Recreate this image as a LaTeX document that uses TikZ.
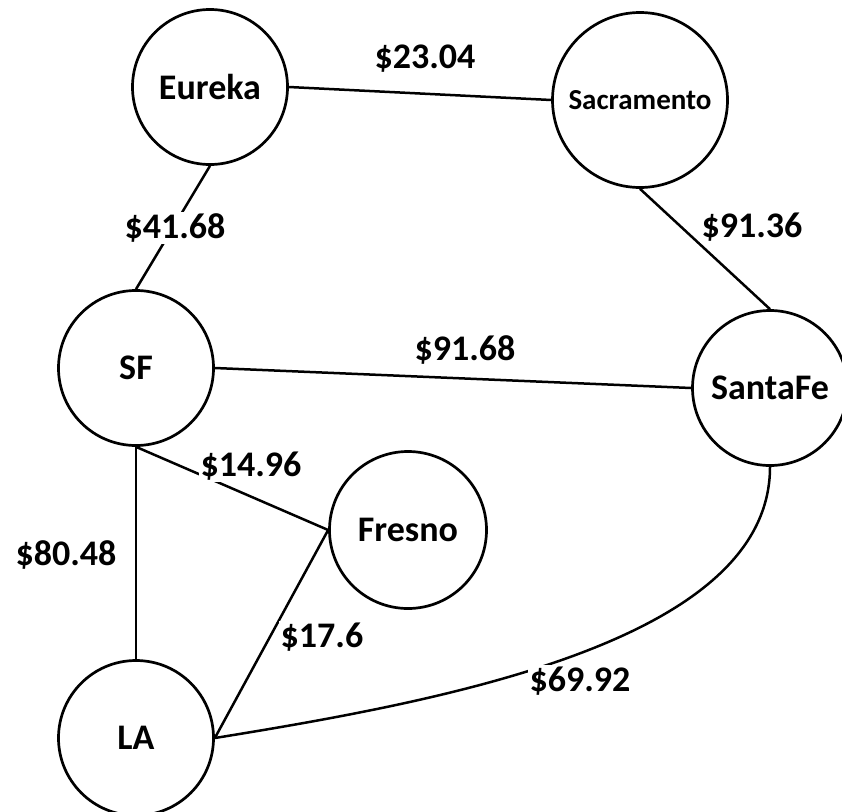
\documentclass[tikz,border=0pt]{standalone}
\usepackage{fontspec}
\setmainfont{Carlito}
\usepackage{tikz}
\usetikzlibrary{positioning,calc}

\begin{document}
\begin{tikzpicture}[
  x=1pt, y=-1pt,
  city/.style={draw, circle, line width=2.7pt, inner sep=0pt, minimum size=155pt,
    font=\fontsize{36}{40}\selectfont\bfseries},
  road/.style={line width=2.5pt},
  cost/.style={fill=white, inner sep=2pt, font=\fontsize{36}{40}\selectfont\bfseries}
]
  \useasboundingbox (0,0) rectangle (842,811);

  \node[city] (eureka) at (210,87) {Eureka};
  \node[city, minimum size=175pt, font=\fontsize{29}{33}\selectfont\bfseries] (sacramento) at (640,100) {Sacramento};
  \node[city] (sf) at (136,368) {SF};
  \node[city] (santafe) at (770,388) {SantaFe};
  \node[city, minimum size=157pt] (fresno) at (408,530) {Fresno};
  \node[city] (la) at (136,738) {LA};

  \draw[road] (eureka.east) -- (sacramento.west);
  \draw[road] (eureka.south) -- (sf.north);
  \draw[road] (sacramento.south) -- (santafe.north);
  \draw[road] (sf.east) -- (santafe.west);
  \draw[road] (sf.south) -- (fresno.west);
  \draw[road] (sf.south) -- (la.north);
  \draw[road] (fresno.west) -- (la.east);
  \draw[road] (santafe.south) .. controls (770,640) and (450,700) .. (la.east);

  \node[cost] (c2304) at (425,59) {\$23.04};
  \node[cost] (c4168) at (175,228) {\$41.68};
  \node[cost] (c9136) at (752,227) {\$91.36};
  \node[cost] (c9168) at (465,350) {\$91.68};
  \node[cost] (c1496) at (251,466) {\$14.96};
  \node[cost] (c8048) at (66,555) {\$80.48};
  \node[cost] (c176) at (322,637) {\$17.6};
  \node[cost] (c6992) at (580,681) {\$69.92};
\end{tikzpicture}
\end{document}
